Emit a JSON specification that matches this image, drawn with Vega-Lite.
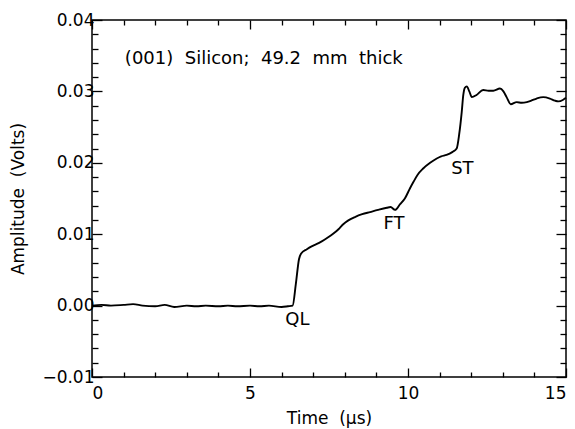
{
  "$schema": "https://vega.github.io/schema/vega-lite/v6.json",
  "width": 474,
  "height": 357,
  "autosize": {"type": "none"},
  "padding": {"left": 92, "top": 20, "right": 9, "bottom": 52},
  "background": "white",
  "config": {
    "view": {"stroke": "black", "strokeWidth": 1.5},
    "font": "DejaVu Sans",
    "axis": {
      "domain": false,
      "grid": false,
      "tickColor": "black",
      "tickWidth": 1.3,
      "labelColor": "black",
      "labelFont": "DejaVu Sans",
      "labelFontSize": 17,
      "titleFont": "DejaVu Sans",
      "titleFontSize": 17,
      "titleFontWeight": "normal",
      "titleColor": "black"
    }
  },
  "datasets": {
    "signal": [
      {"t": 0.0, "v": 0.0000},
      {"t": 0.3, "v": 0.0001},
      {"t": 0.6, "v": 0.0000},
      {"t": 1.0, "v": 0.0001},
      {"t": 1.3, "v": 0.0002},
      {"t": 1.6, "v": 0.0000},
      {"t": 2.0, "v": -0.0001},
      {"t": 2.3, "v": 0.0001},
      {"t": 2.6, "v": -0.0002},
      {"t": 3.0, "v": 0.0000},
      {"t": 3.3, "v": -0.0001},
      {"t": 3.6, "v": 0.0000},
      {"t": 4.0, "v": -0.0001},
      {"t": 4.3, "v": 0.0000},
      {"t": 4.6, "v": -0.0001},
      {"t": 5.0, "v": 0.0000},
      {"t": 5.3, "v": -0.0001},
      {"t": 5.6, "v": 0.0000},
      {"t": 6.0, "v": -0.0002},
      {"t": 6.2, "v": -0.0001},
      {"t": 6.35, "v": 0.0000},
      {"t": 6.45, "v": 0.0030},
      {"t": 6.55, "v": 0.0065},
      {"t": 6.62, "v": 0.0073},
      {"t": 6.8, "v": 0.0079},
      {"t": 6.95, "v": 0.0083},
      {"t": 7.1, "v": 0.0086},
      {"t": 7.27, "v": 0.0090},
      {"t": 7.45, "v": 0.0095},
      {"t": 7.64, "v": 0.0101},
      {"t": 7.8, "v": 0.0107},
      {"t": 7.95, "v": 0.0114},
      {"t": 8.1, "v": 0.0119},
      {"t": 8.32, "v": 0.0124},
      {"t": 8.55, "v": 0.0128},
      {"t": 8.8, "v": 0.0131},
      {"t": 9.05, "v": 0.0134},
      {"t": 9.33, "v": 0.0137},
      {"t": 9.45, "v": 0.0138},
      {"t": 9.59, "v": 0.0134},
      {"t": 9.75, "v": 0.0142},
      {"t": 9.9, "v": 0.0150},
      {"t": 10.06, "v": 0.0164},
      {"t": 10.17, "v": 0.0173},
      {"t": 10.3, "v": 0.0183},
      {"t": 10.48, "v": 0.0192},
      {"t": 10.7, "v": 0.0200},
      {"t": 10.91, "v": 0.0206},
      {"t": 11.05, "v": 0.0209},
      {"t": 11.22, "v": 0.0211},
      {"t": 11.4, "v": 0.0215},
      {"t": 11.54, "v": 0.0220},
      {"t": 11.62, "v": 0.0240},
      {"t": 11.70, "v": 0.0271},
      {"t": 11.75, "v": 0.0295},
      {"t": 11.80, "v": 0.0305},
      {"t": 11.86, "v": 0.0307},
      {"t": 11.94, "v": 0.0300},
      {"t": 12.02, "v": 0.0292},
      {"t": 12.17, "v": 0.0295},
      {"t": 12.38, "v": 0.0302},
      {"t": 12.55, "v": 0.0301},
      {"t": 12.7, "v": 0.0301},
      {"t": 12.91, "v": 0.0304},
      {"t": 13.02, "v": 0.0300},
      {"t": 13.12, "v": 0.0292},
      {"t": 13.25, "v": 0.0282},
      {"t": 13.44, "v": 0.0285},
      {"t": 13.6, "v": 0.0284},
      {"t": 13.76, "v": 0.0285},
      {"t": 13.9, "v": 0.0287},
      {"t": 14.07, "v": 0.0290},
      {"t": 14.28, "v": 0.0292},
      {"t": 14.49, "v": 0.0290},
      {"t": 14.65, "v": 0.0287},
      {"t": 14.76, "v": 0.0286},
      {"t": 14.9, "v": 0.0288},
      {"t": 15.0, "v": 0.0291}
    ],
    "notes": [
      {"t": 1.04, "v": 0.0345, "label": "(001)\u00a0\u00a0Silicon;\u00a0\u00a049.2\u00a0\u00a0mm\u00a0\u00a0thick", "align": "left"},
      {"t": 6.5, "v": -0.0020, "label": "QL", "align": "center"},
      {"t": 9.56, "v": 0.0114, "label": "FT", "align": "center"},
      {"t": 11.72, "v": 0.0192, "label": "ST", "align": "center"}
    ]
  },
  "layer": [
    {
      "data": {"name": "signal"},
      "mark": {"type": "line", "color": "black", "strokeWidth": 1.9, "interpolate": "monotone"},
      "encoding": {
        "x": {
          "field": "t", "type": "quantitative",
          "scale": {"domain": [0, 15], "nice": false, "zero": false},
          "axis": {
            "orient": "bottom",
            "title": "Time\u00a0\u00a0(μs)",
            "titleY": 41,
            "titleBaseline": "middle",
            "values": [0,1,2,3,4,5,6,7,8,9,10,11,12,13,14,15],
            "labelExpr": "datum.value % 5 === 0 ? format(datum.value, 'd') : ''",
            "tickSize": {"condition": {"test": "datum.value % 5 === 0", "value": -9}, "value": -5},
            "labelPadding": 17
          }
        },
        "y": {
          "field": "v", "type": "quantitative",
          "scale": {"domain": [-0.01, 0.04], "nice": false, "zero": false},
          "axis": {
            "orient": "left",
            "title": "Amplitude\u00a0\u00a0(Volts)",
            "titleX": -74,
            "titleBaseline": "middle",
            "values": [-0.01,-0.008,-0.006,-0.004,-0.002,0,0.002,0.004,0.006,0.008,0.01,0.012,0.014,0.016,0.018,0.02,0.022,0.024,0.026,0.028,0.03,0.032,0.034,0.036,0.038,0.04],
            "labelExpr": "abs(datum.value*100 - round(datum.value*100)) < 0.001 ? format(datum.value, '.2f') : ''",
            "tickSize": {"condition": {"test": "abs(datum.value*100 - round(datum.value*100)) < 0.001", "value": -10}, "value": -6},
            "labelPadding": 8
          }
        }
      }
    },
    {
      "data": {"name": "signal"},
      "mark": {"type": "line", "opacity": 0},
      "encoding": {
        "x": {
          "field": "t", "type": "quantitative",
          "scale": {"domain": [0, 15], "nice": false, "zero": false},
          "axis": {
            "orient": "top", "title": null, "labels": false,
            "values": [0,1,2,3,4,5,6,7,8,9,10,11,12,13,14,15],
            "tickSize": {"condition": {"test": "datum.value % 5 === 0", "value": -9}, "value": -5}
          }
        },
        "y": {
          "field": "v", "type": "quantitative",
          "scale": {"domain": [-0.01, 0.04], "nice": false, "zero": false},
          "axis": {
            "orient": "right", "title": null, "labels": false,
            "values": [-0.01,-0.008,-0.006,-0.004,-0.002,0,0.002,0.004,0.006,0.008,0.01,0.012,0.014,0.016,0.018,0.02,0.022,0.024,0.026,0.028,0.03,0.032,0.034,0.036,0.038,0.04],
            "tickSize": {"condition": {"test": "abs(datum.value*100 - round(datum.value*100)) < 0.001", "value": -10}, "value": -6}
          }
        }
      }
    },
    {
      "data": {"name": "notes"},
      "transform": [{"filter": "datum.align === 'left'"}],
      "mark": {"type": "text", "align": "left", "baseline": "middle", "fontSize": 18, "color": "black", "font": "DejaVu Sans"},
      "encoding": {
        "x": {"field": "t", "type": "quantitative", "axis": null},
        "y": {"field": "v", "type": "quantitative", "axis": null},
        "text": {"field": "label"}
      }
    },
    {
      "data": {"name": "notes"},
      "transform": [{"filter": "datum.align === 'center'"}],
      "mark": {"type": "text", "align": "center", "baseline": "middle", "fontSize": 18, "color": "black", "font": "DejaVu Sans"},
      "encoding": {
        "x": {"field": "t", "type": "quantitative", "axis": null},
        "y": {"field": "v", "type": "quantitative", "axis": null},
        "text": {"field": "label"}
      }
    }
  ],
  "resolve": {"axis": {"x": "independent", "y": "independent"}}
}
